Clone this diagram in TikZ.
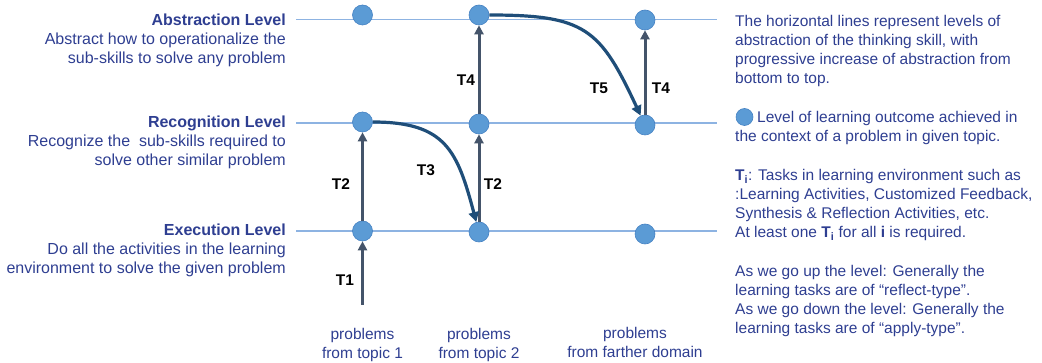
\documentclass[tikz,border=0pt]{standalone}
\usepackage{fontspec}
\setmainfont{Liberation Sans}
\usetikzlibrary{arrows.meta}
\definecolor{txtblue}{RGB}{46,62,145}
\definecolor{lineblue}{RGB}{141,179,226}
\definecolor{dotblue}{RGB}{91,155,213}
\definecolor{dotedge}{RGB}{70,130,195}
\definecolor{arrgray}{RGB}{68,84,106}
\definecolor{arrblue}{RGB}{31,78,121}

\begin{document}
\begin{tikzpicture}[x=1pt,y=1pt,
  lvl/.style={lineblue,line width=1.5pt},
  dot/.style={circle,fill=dotblue,draw=dotedge,line width=0.6pt,minimum size=20pt,inner sep=0pt},
  varrow/.style={arrgray,line width=3pt,-{Triangle[length=9pt,width=9pt]}},
  carrow/.style={arrblue,line width=3.2pt,-{Triangle[length=10pt,width=10pt]}},
  tlab/.style={font=\fontsize{15.5}{18}\selectfont\bfseries,inner sep=0pt},
  txt/.style={font=\fontsize{15.5}{19}\selectfont,text=txtblue,inner sep=0pt},
  side/.style={txt,font=\fontsize{16}{19}\selectfont,align=right,anchor=north east}]
  \useasboundingbox (0,0) rectangle (1042,-363);

  \draw[lvl] (296,-19.5) -- (717,-19.5);
  \draw[lvl] (296,-123) -- (717,-123);
  \draw[lvl] (296,-231) -- (717,-231);

  \node[dot] (A1) at (362.5,-15) {};
  \node[dot] (A2) at (479,-15) {};
  \node[dot] (A3) at (645,-20) {};
  \node[dot] (R1) at (362.5,-122) {};
  \node[dot] (R2) at (479,-124) {};
  \node[dot] (R3) at (645,-125) {};
  \node[dot] (E1) at (362.5,-231) {};
  \node[dot] (E2) at (479,-232) {};
  \node[dot] (E3) at (645,-234) {};
  \coordinate (S) at (362.5,-305);

  \draw[varrow] (S) -- (E1);
  \draw[varrow] (E1) -- (R1);
  \draw[varrow] (E2) -- (R2);
  \draw[varrow] (R2) -- (A2);
  \draw[varrow] (R3) -- (A3);
  \draw[carrow] (R1) to[out=0,in=105,looseness=1.3] (E2);
  \draw[carrow] (A2) to[out=0,in=115,looseness=1.35] (R3);

  \node[tlab] (T1) at (345,-280) {T1};
  \node[tlab] (T2a) at (341,-184) {T2};
  \node[tlab] (T2b) at (493,-184) {T2};
  \node[tlab] (T3) at (426,-170) {T3};
  \node[tlab] (T4a) at (466,-80) {T4};
  \node[tlab] (T5) at (599,-88) {T5};
  \node[tlab] (T4b) at (661,-88) {T4};

  \node[side] (abs) at (286,-13.3)
    {\textbf{Abstraction Level}\\Abstract how to operationalize the\\sub-skills to solve any problem};
  \node[side] (rec) at (286,-115.3)
    {\textbf{Recognition Level}\\Recognize the\ \ sub-skills required to\\solve other similar problem};
  \node[side] (exe) at (286,-223.3)
    {\textbf{Execution Level}\\Do all the activities in the learning\\environment to solve the given problem};

  \node[txt,align=center,anchor=north] (top1) at (362.5,-327.7) {problems\\from topic 1};
  \node[txt,align=center,anchor=north] (top2) at (479,-327.7) {problems\\from topic 2};
  \node[txt,align=center,anchor=north] (far) at (635,-326.7) {problems\\from farther domain};

  \node[txt,align=left,anchor=north west] (levels) at (735,-14.7)
    {The horizontal lines represent levels of\\abstraction of the thinking skill, with\\progressive increase of abstraction from\\bottom to top.};
  \node[dot,minimum size=17pt] (key) at (744.5,-117) {};
  \node[txt,align=left,anchor=north west] (outcome) at (735,-110.7)
    {\hspace*{22pt}Level of learning outcome achieved in\\the context of a problem in given topic.};
  \node[txt,align=left,anchor=north west] (tasks) at (735,-169)
    {\textbf{T}\textsubscript{\textbf{i}}: Tasks in learning environment such as\\:Learning Activities, Customized Feedback,\\Synthesis \& Reflection Activities, etc.\\At least one \textbf{T}\textsubscript{\textbf{i}} for all \textbf{i} is required.};
  \node[txt,align=left,anchor=north west] (types) at (735,-264.8)
    {As we go up the level: Generally the\\learning tasks are of “reflect-type”.\\As we go down the level: Generally the\\learning tasks are of “apply-type”.};
\end{tikzpicture}
\end{document}
